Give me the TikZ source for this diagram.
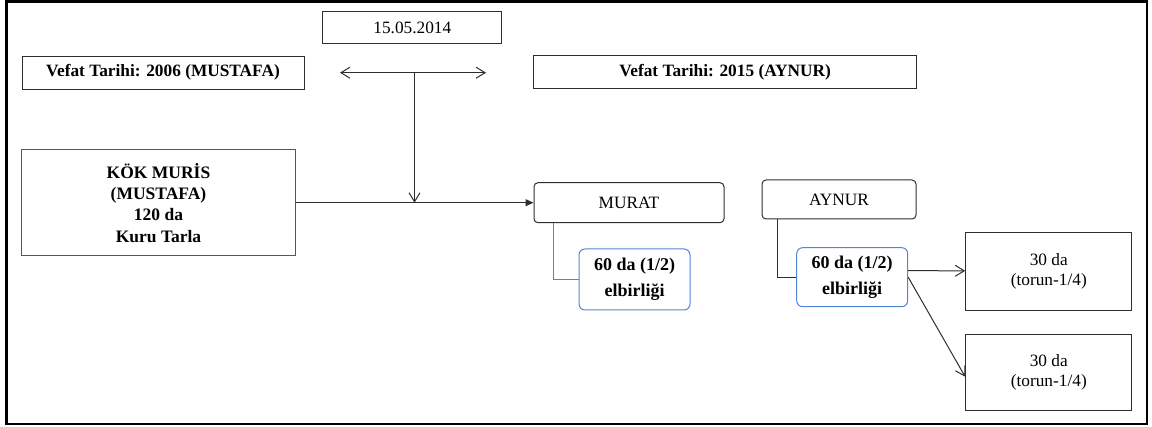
\documentclass[tikz,border=0pt]{standalone}
\usepackage{fontspec}
\setmainfont{Liberation Serif}
\usetikzlibrary{arrows.meta}

\definecolor{rootblue}{HTML}{3A5894}
\definecolor{shareblue}{HTML}{5584D6}
\definecolor{linegrey}{HTML}{2E2E2E}

\tikzset{
  basefont/.style={font=\fontsize{17.3}{21.6}\selectfont},
  box/.style={draw=linegrey, line width=1pt, rectangle, inner sep=0pt,
              align=center, basefont},
  titlebox/.style={box, font=\fontsize{17.3}{21.6}\selectfont\bfseries},
  rootbox/.style={box, draw=rootblue, font=\fontsize{17.5}{21.3}\selectfont\bfseries},
  heirbox/.style={box, rounded corners=4pt},
  sharebox/.style={box, draw=shareblue, rounded corners=6pt,
                   font=\fontsize{18}{25.6}\selectfont\bfseries},
  grandbox/.style={box, font=\fontsize{17.3}{20}\selectfont},
  link/.style={draw=linegrey, line width=1pt},
  barb/.style={link, -{Straight Barb[length=9pt,width=11pt]}},
  dbarb/.style={link, {Straight Barb[length=9pt,width=11pt]}-{Straight Barb[length=9pt,width=11pt]}},
  solidtip/.style={link, -{Triangle[length=8pt,width=7pt]}}
}

\begin{document}
\begin{tikzpicture}[x=1pt, y=-1pt]
  \useasboundingbox (0,0) rectangle (1152,427);

  % outer frame
  \draw[line width=2.5pt, black] (6.5,1.5) rectangle (1147,424);

  % dates
  \node[box, minimum width=179pt, minimum height=31.5pt] (date) at (412.3,27.4) {15.05.2014};
  \node[titlebox, minimum width=282pt, minimum height=33pt] (death1) at (163,72.6) {Vefat Tarihi: 2006 (MUSTAFA)};
  \node[titlebox, minimum width=382.5pt, minimum height=33pt] (death2) at (725.2,72.5) {Vefat Tarihi: 2015 (AYNUR)};

  % root estate
  \node[rootbox, minimum width=274.4pt, minimum height=106pt] (root) at (158.5,202.7)
    {KÖK MURİS\\(MUSTAFA)\\120 da\\Kuru Tarla};

  % heirs
  \node[heirbox, minimum width=190pt, minimum height=40pt] (murat) at (629,202.7) {MURAT};
  \node[heirbox, minimum width=154pt, minimum height=39pt] (aynur) at (839,199.5) {AYNUR};

  % shares
  \node[sharebox, minimum width=111pt, minimum height=61pt] (shareM) at (634.5,279.5) {60 da (1/2)\\elbirliği};
  \node[sharebox, minimum width=111pt, minimum height=59pt] (shareA) at (852.2,277.2) {60 da (1/2)\\elbirliği};

  % grandchildren
  \node[grandbox, minimum width=166.3pt, minimum height=78.3pt] (grand1) at (1048.8,271.8) {30 da\\(torun-1/4)};
  \node[grandbox, minimum width=166.3pt, minimum height=75.7pt] (grand2) at (1048.8,372.2) {30 da\\(torun-1/4)};

  % time axis between the two deaths
  \coordinate (axisL) at (340,72.7);
  \coordinate (axisR) at (486,72.7);
  \coordinate (axisM) at (414.5,72.7);
  \draw[dbarb] (axisL) -- (axisR);
  \draw[barb] (axisM) -- (axisM |- root.east);

  % transfer of the estate
  \draw[solidtip] (root.east) -- (murat.west);

  % heir to share
  \draw[link, draw=shareblue] ([xshift=20pt]murat.south west) |- (shareM.west);
  \draw[link] ([xshift=15.7pt]aynur.south west) |- (shareA.west);

  % share to grandchildren
  \draw[barb] ([yshift=6.5pt]shareA.east) -- ([yshift=1pt]grand1.west);
  \draw[barb] (shareA.east) -- ([yshift=-4.5pt]grand2.west);
\end{tikzpicture}
\end{document}
